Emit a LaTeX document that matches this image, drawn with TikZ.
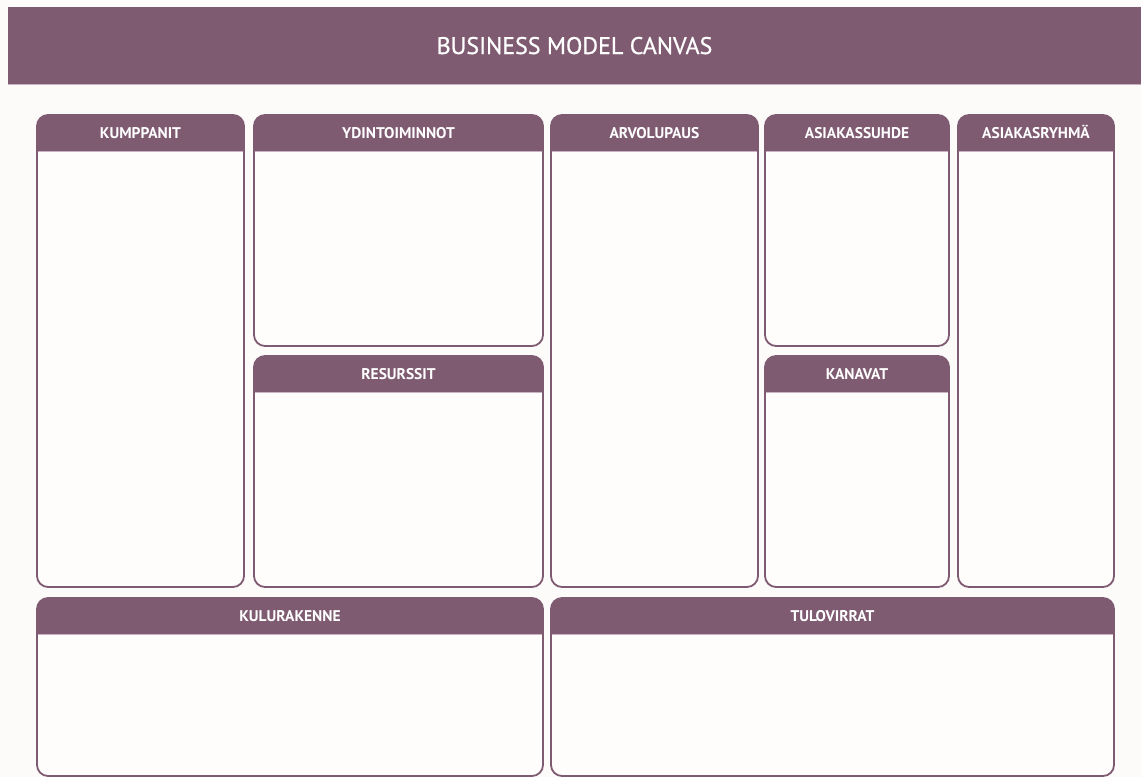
\documentclass[tikz,border=0pt]{standalone}
\usepackage{fontspec}
\setmainfont{PT Sans}
\usetikzlibrary{fit}
\definecolor{plum}{HTML}{7F5B72}
\definecolor{plumlight}{HTML}{C9B3C2}
\definecolor{pagebg}{HTML}{FDFBFA}
\definecolor{bodyfill}{HTML}{FFFDFC}
\tikzset{
  banner/.style={fill=plum, inner sep=0pt, outer sep=0pt},
  panel/.style={draw=plum, line width=1.8pt, fill=bodyfill,
    rounded corners=11pt, inner sep=0pt, outer sep=0pt,
    path picture={
      \fill[plum, sharp corners] (path picture bounding box.north west)
        rectangle ([yshift=-36pt]path picture bounding box.north east);
      \draw[plumlight, line width=1pt, sharp corners]
        ([yshift=-36pt]path picture bounding box.north west)
        -- ([yshift=-36pt]path picture bounding box.north east);
    }},
  headtext/.style={text=white, anchor=base, inner sep=0pt,
    font=\fontsize{15.5}{18}\selectfont\bfseries},
  titletext/.style={text=white, anchor=base, inner sep=0pt,
    font=\fontsize{24}{28}\selectfont\addfontfeature{FakeBold=0.7}},
}
% \panelbox{name}{left}{top}{right}{bottom}{heading}
\newcommand{\panelbox}[6]{%
  \node[panel, fit={(#2,#3) (#4,#5)}] (#1) {};
  \node[headtext] (#1-head) at ([yshift=-23pt]#1.north) {#6};
}
\begin{document}
\begin{tikzpicture}[x=1pt, y=-1pt]
  \fill[pagebg] (0,0) rectangle (1141,777);
  \useasboundingbox (0,0) rectangle (1141,777);

  % title banner
  \node[banner, fit={(8,7) (1141,84)}] (banner) {};
  \draw[plumlight, line width=1pt] (banner.south west) -- (banner.south east);
  \node[titletext] (title) at ([yshift=-8.5pt]banner.center) {BUSINESS MODEL CANVAS};

  % upper row
  \panelbox{partners}{37}{115}{244}{587}{KUMPPANIT}
  \panelbox{activities}{254}{115}{543}{346}{YDINTOIMINNOT}
  \panelbox{resources}{254}{356}{543}{587}{RESURSSIT}
  \panelbox{value}{551}{115}{758}{587}{ARVOLUPAUS}
  \panelbox{relations}{765}{115}{949}{346}{ASIAKASSUHDE}
  \panelbox{channels}{765}{356}{949}{587}{KANAVAT}
  \panelbox{segments}{958}{115}{1114}{587}{ASIAKASRYHMÄ}

  % lower row
  \panelbox{costs}{37}{598}{543}{776}{KULURAKENNE}
  \panelbox{revenue}{551}{598}{1114}{776}{TULOVIRRAT}
\end{tikzpicture}
\end{document}
